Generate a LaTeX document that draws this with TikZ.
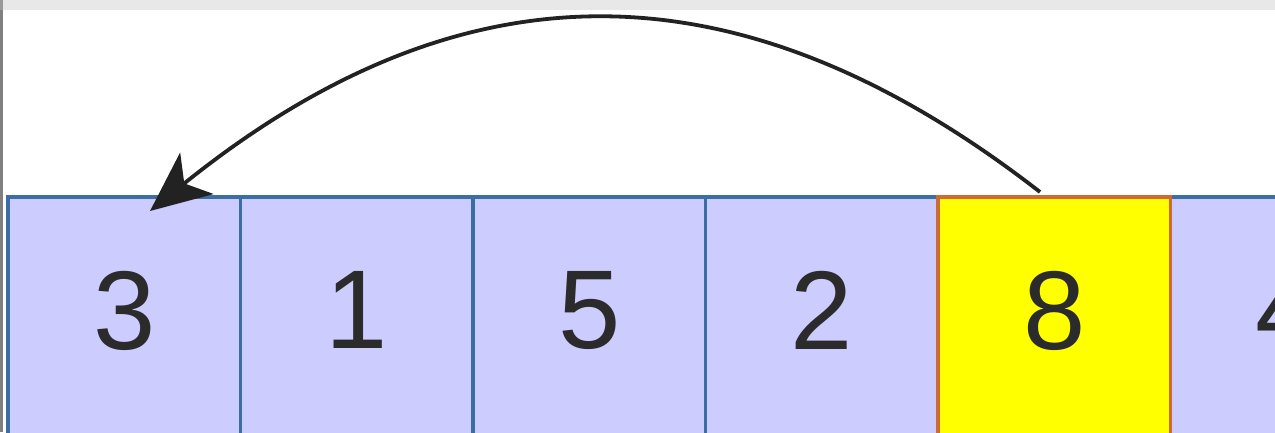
\documentclass[tikz,border=0pt]{standalone}
\usepackage{fontspec}
\setmainfont{Liberation Sans}
\usetikzlibrary{arrows.meta}
\definecolor{cellfill}{HTML}{CCCCFF}
\definecolor{cellline}{HTML}{3A6EA5}
\definecolor{hiline}{HTML}{D06A35}
\definecolor{hifill}{HTML}{FFFF00}
\definecolor{digit}{HTML}{2B2B2B}
\definecolor{topbar}{HTML}{E8E8E8}
\definecolor{sidebar}{HTML}{808080}
\definecolor{arrowcol}{HTML}{222222}
\tikzset{
  cellbox/.style={draw=cellline, fill=cellfill, line width=3.2pt, minimum width=232.5pt,
    minimum height=240pt, inner sep=0pt, text=digit, text depth=14pt,
    font=\fontsize{112}{112}\selectfont},
  hibox/.style={cellbox, draw=hiline, fill=hifill},
  movearrow/.style={line width=3.8pt, draw=arrowcol, -{Stealth[length=60pt, width=53pt, inset=16pt]}}
}
\begin{document}
\begin{tikzpicture}[x=1pt, y=-1pt]
\useasboundingbox (0,0) rectangle (1275,432);
\begin{scope}
\clip (0,0) rectangle (1275,432);
\fill[white] (0,0) rectangle (1275,432);
\fill[topbar] (0,0) rectangle (1275,10);
\fill[sidebar] (0,10) rectangle (2.5,432);
\fill[black!40] (0,0) rectangle (2.5,10);
\node[cellbox] (c1) at (124.25,317) {3};
\node[cellbox] (c2) at (356.75,317) {1};
\node[cellbox] (c3) at (589.25,317) {5};
\node[cellbox] (c4) at (821.75,317) {2};
\node[cellbox] (c6) at (1286.75,317) {4};
\node[hibox] (c5) at (1054.25,317) {8};
\coordinate (from) at (1040,192);
\coordinate (to) at (150,211);
\draw[movearrow] (from) .. controls (740,-41) and (463,-41) .. (to);
\end{scope}
\end{tikzpicture}
\end{document}
